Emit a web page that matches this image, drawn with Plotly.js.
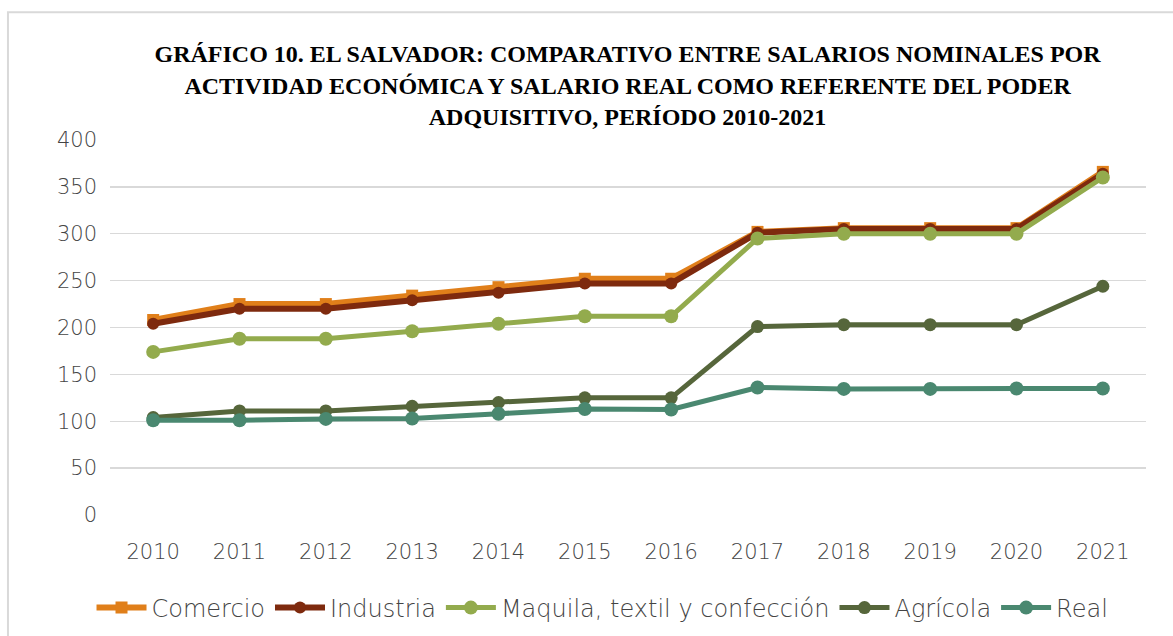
<!DOCTYPE html>
<html><head><meta charset="utf-8">
<script src="https://cdn.plot.ly/plotly-3.0.1.min.js"></script>
<style>body{margin:0;background:#fff}#c{width:1173px;height:636px}</style>
</head><body><div id="c"></div>
<script>
const years = ['2010','2011','2012','2013','2014','2015','2016','2017','2018','2019','2020','2021'];
const comercio = [208, 225, 225, 234, 243, 252, 252, 302, 306, 306, 306, 366];
const industria = [204, 220, 220, 229, 237, 247, 247, 301, 305, 305, 305, 364];
const maquila = [174, 188, 188, 196, 204, 212, 212, 295, 300, 300, 300, 360];
const agricola = [104, 111, 111, 116, 120, 125, 125, 201, 203, 203, 203, 244];
const real = [101, 101, 102.5, 103, 108, 113, 112.5, 136, 134.5, 134.5, 135, 135];
const names = ['Comercio','Industria','Maquila, textil y confección','Agrícola','Real'];
const colors = ['#E07F1A','#7E2A0E','#93AB4D','#56663B','#4A8870'];

function tr(y, i, sym, sz, w){
  return {x: years, y: y, name: names[i], type:'scatter', mode:'lines+markers',
    line:{color:colors[i], width:w}, marker:{color:colors[i], size:sz, symbol:sym}};
}
const data = [
  tr(comercio,0,'square',12,6),
  tr(industria,1,'circle',12,6),
  tr(maquila,2,'circle',14,5),
  tr(agricola,3,'circle',13,5),
  tr(real,4,'circle',14,5)
];
const font = '"DejaVu Sans", Lato, sans-serif';
const layout = {
  width:1173, height:636,
  margin:{l:110, r:27, t:140, b:121, autoexpand:false},
  paper_bgcolor:'#fff', plot_bgcolor:'#fff',
  title:{text:'GRÁFICO 10. EL SALVADOR: COMPARATIVO ENTRE SALARIOS NOMINALES POR<br>ACTIVIDAD ECONÓMICA Y SALARIO REAL COMO REFERENTE DEL PODER<br>ADQUISITIVO, PERÍODO 2010-2021',
    font:{family:'"Liberation Serif", "Times New Roman", serif', size:24, color:'#000', weight:'bold'},
    x:0.535, xanchor:'center', y:0.902, yanchor:'middle'},
  xaxis:{type:'category', range:[-0.5,11.5], showgrid:false, zeroline:false, showline:false,
    ticks:'', tickfont:{family:font, size:21, color:'#444', weight:300}, ticklabelstandoff:22},
  yaxis:{range:[0,400], dtick:50, showgrid:true, gridcolor:'#D9D9D9', gridwidth:1.3, zeroline:false,
    showline:false, ticks:'', tickfont:{family:font, size:21, color:'#444', weight:300}, ticklabelstandoff:12},
  showlegend:true,
  legend:{orientation:'h', x:0.4754, xanchor:'center', y:-0.248, yanchor:'middle',
    font:{family:font, size:24, color:'#444', weight:300}, itemwidth:50, tracegroupgap:0},
  shapes:[
    {type:'rect', layer:'between', xref:'paper', yref:'y', x0:0.027, x1:0.959, y0:396, y1:404,
     fillcolor:'#fff', line:{width:0}},
    {type:'rect', layer:'above', xref:'paper', yref:'paper', x0:-0.0985, x1:1.2, y0:-0.5, y1:1.341,
     fillcolor:'rgba(0,0,0,0)', line:{color:'#D9D9D9', width:2}}
  ]
};
Plotly.newPlot('c', data, layout, {displayModeBar:false, staticPlot:true});
</script></body></html>
